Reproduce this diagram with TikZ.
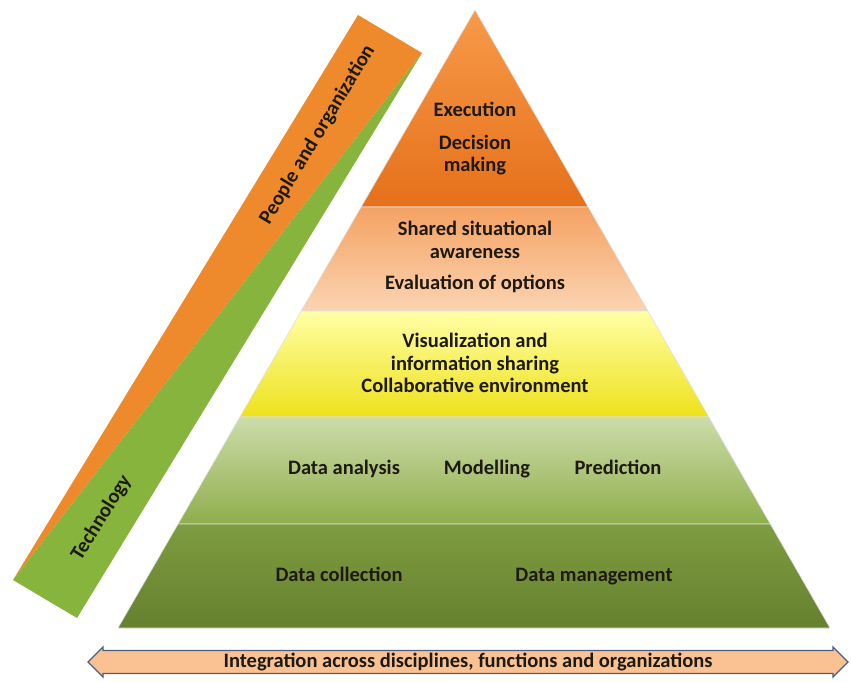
\documentclass[tikz,border=0pt]{standalone}
\usepackage{fontspec}
\setmainfont{Carlito}
\usetikzlibrary{calc,shapes.arrows}
\definecolor{txt}{HTML}{1E1A12}
\definecolor{exectop}{HTML}{F79A4A}
\definecolor{execbot}{HTML}{E6701A}
\definecolor{sharetop}{HTML}{F5A262}
\definecolor{sharebot}{HTML}{FBD4B2}
\definecolor{visutop}{HTML}{FFFFA6}
\definecolor{visubot}{HTML}{EEE11A}
\definecolor{analtop}{HTML}{CDDCAA}
\definecolor{analbot}{HTML}{8FAE4C}
\definecolor{colltop}{HTML}{7E9C40}
\definecolor{collbot}{HTML}{66812F}
\definecolor{barorange}{HTML}{EF8A2C}
\definecolor{bargreen}{HTML}{86B43C}
\definecolor{arrowfill}{HTML}{FAC292}
\definecolor{arrowline}{HTML}{4D5F80}

\begin{document}
\begin{tikzpicture}[x=1pt,y=-1pt]
 \tikzstyle{every node}=[font=\fontsize{20.5}{22.5}\selectfont\bfseries,text=txt,align=center]
 \tikzstyle{layer}=[draw=black!12,line width=0.6pt]
 \tikzstyle{item}=[text height=14pt,text depth=4pt]
 \useasboundingbox (0,0) rectangle (851,681);
 \coordinate (apex) at (475,10);
 \coordinate (bl) at (118,628);
 \coordinate (br) at (830,628);
 \foreach \n/\t in {1/0.3188,2/0.4871,3/0.6586,4/0.8317} {
  \coordinate (l\n) at ($(apex)!\t!(bl)$);
  \coordinate (r\n) at ($(apex)!\t!(br)$);
 }
 \path[layer,top color=exectop,bottom color=execbot] (apex) -- (r1) -- (l1) -- cycle;
 \path[layer,top color=sharetop,bottom color=sharebot] (l1) -- (r1) -- (r2) -- (l2) -- cycle;
 \path[layer,top color=visutop,bottom color=visubot] (l2) -- (r2) -- (r3) -- (l3) -- cycle;
 \path[layer,top color=analtop,bottom color=analbot] (l3) -- (r3) -- (r4) -- (l4) -- cycle;
 \path[layer,top color=colltop,bottom color=collbot] (l4) -- (r4) -- (br) -- (bl) -- cycle;
 % slanted bar
 \coordinate (ptl) at (358,15);
 \coordinate (ptr) at (422,53);
 \coordinate (pbr) at (77,618);
 \coordinate (pbl) at (13,580);
 \fill[barorange] (ptl) -- (ptr) -- (pbl) -- cycle;
 \fill[bargreen] (ptr) -- (pbr) -- (pbl) -- cycle;
 \node[item,rotate=59] (people) at (318,135) {People and organization};
 \node[item,rotate=58] (techno) at (102,518) {Technology};
 \node (exec) at (475,139) {Execution\\[10pt]Decision\\making};
 \node (share) at (475,257) {Shared situational\\awareness\\[9pt]Evaluation of options};
 \node (visu) at (475,363) {Visualization and\\information sharing\\Collaborative environment};
 \node[item] (anal) at (344,469) {Data analysis};
 \node[item] (model) at (487,469) {Modelling};
 \node[item] (pred) at (618,469) {Prediction};
 \node[item] (coll) at (339,576) {Data collection};
 \node[item] (mgmt) at (594,576) {Data management};
 \node[double arrow,draw=arrowline,line width=1.3pt,fill=arrowfill,
  minimum height=760pt,minimum width=30pt,inner sep=0pt,
  double arrow head extend=3pt,double arrow tip angle=90] (integ) at (468,662)
  {Integration across disciplines, functions and organizations};
\end{tikzpicture}
\end{document}
